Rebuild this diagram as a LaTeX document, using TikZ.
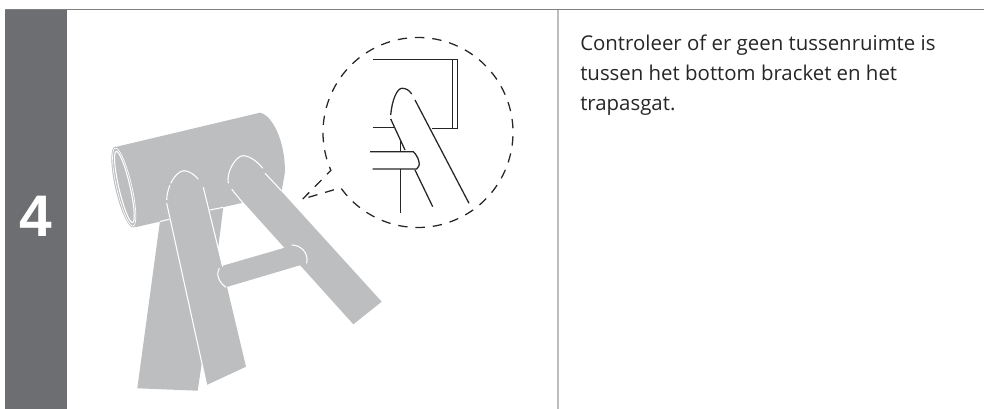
\documentclass[tikz,border=0pt]{standalone}
\usepackage{fontspec}
\setmainfont{Open Sans}
\newfontfamily\numfont{Liberation Sans}
\usepackage{tikz}
\usetikzlibrary{positioning}
\definecolor{bandgray}{RGB}{109,110,113}
\definecolor{rulegray}{RGB}{128,128,128}
\definecolor{sidegray}{RGB}{188,189,192}
\definecolor{tubegray}{RGB}{188,190,192}
\tikzset{tubefill/.style={fill=tubegray,draw=none},
  whiteline/.style={draw=white,line width=0.8pt},
  inkline/.style={draw=black!85,line width=0.95pt},
  lensdash/.style={draw=black!85,line width=0.95pt,dash pattern=on 7pt off 6pt}}
\begin{document}
\begin{tikzpicture}[x=0.75pt,y=-0.75pt]
\useasboundingbox (0,0) rectangle (984,409);
\fill[bandgray] (5,9) rectangle (67,409);
\draw[rulegray,line width=0.75pt] (5,9.5) -- (984,9.5);
\draw[sidegray,line width=1.2pt] (558,10) -- (558,409);
\node[text=white,font=\numfont\fontsize{44}{44}\selectfont\bfseries] (stepnum) at (36,216) {4};
\node[anchor=north west,align=left,inner sep=0pt,text=black!85,font=\fontsize{15.3}{22.5}\selectfont] (note) at (580,34.5)
  {Controleer of er geen tussenruimte is\\tussen het bottom bracket en het\\trapasgat.};
% frame
\fill[tubefill] (160,221) -- (137.3,388.3) -- (197.7,390.7) -- (203,355) -- (205,210) -- cycle;
\fill[tubefill] (205,209.8) -- (223.3,207.3) -- (218.3,247) -- (210,247) -- cycle;
\fill[tubefill] (116.7,146.7) -- (260,112.7) .. controls (272,115) and (285,140) .. (285,172) -- (281.7,191) -- (241.7,203) -- (135,227.3) -- cycle;
\fill[tubefill] (166,203) -- (170,183) .. controls (175,172) and (190,165) .. (203.3,187.3) -- (246,366.7) -- (206.7,385) -- cycle;
\fill[tubefill] (228,183) .. controls (232,155) and (250,150) .. (265,173.3) -- (381.7,301.7) -- (353.3,324.3) -- (231.7,189.3) -- cycle;
\fill[tubefill] (221.7,266) -- (288.3,246.7) .. controls (300,243) and (310,258) .. (306.7,263.3) -- (226.7,287) .. controls (218,285) and (212,270) .. (221.7,266) -- cycle;
% rim
\filldraw[tubefill,rotate around={13:(124.2,187)}] (124.2,187) ellipse (9 and 41.5);
\draw[whiteline,line width=0.5pt,rotate around={13:(124.2,187)}] (124.2,187) ellipse (7.6 and 40);
\draw[whiteline,rotate around={13:(124.2,187)}] (124.4,187) ellipse (5.6 and 36.5);
% joints
\draw[whiteline] (166.7,203.3) -- (206.7,385);
\draw[whiteline] (203.3,187.3) -- (222.7,266.7);
\draw[whiteline] (166.7,200) .. controls (166.7,195) and (168,190) .. (170,185);
\draw[whiteline] (170.7,183.3) .. controls (175,175) and (180,170.7) .. (184,170.7) .. controls (189,170.7) and (195,175) .. (198.3,179.3);
\draw[whiteline] (228.3,183.3) .. controls (226,172) and (236,155.5) .. (243.3,155.7) .. controls (250,156) and (258,162) .. (262.7,168.3);
\draw[whiteline] (265,173.3) -- (281.7,191);
\draw[whiteline] (231.7,189.3) -- (243,203);
\draw[whiteline] (160,221.5) -- (169.3,219.3);
\draw[whiteline] (210,210) -- (223.3,207.3);
\draw[whiteline] (291.7,245) .. controls (300,245) and (309,252) .. (306.7,263.3);
\draw[whiteline] (219.3,268.3) .. controls (216,273) and (218,282) .. (226,287.3);
% lens
\coordinate (lenscentre) at (418,132.5);
\coordinate (tailtip) at (302.7,199);
\draw[lensdash] (tailtip) -- ([shift={(156.5:95)}]lenscentre) arc (156.5:504.4:95) -- cycle;
\draw[inkline] (372.7,59.3) -- (457.3,59.3) -- (457.3,128.3) -- (431.7,128.3);
\draw[inkline] (452.3,59.3) -- (452.3,128.3);
\draw[inkline] (390.7,115) .. controls (392,100) and (397,88.3) .. (402,88.3) .. controls (406,88.3) and (409,90) .. (411.7,94);
\draw[inkline] (415,100) -- (469,203.3);
\draw[inkline] (390.7,119) -- (405,150);
\draw[inkline] (415,170) -- (432.7,206.7);
\draw[inkline] (370,151.7) -- (413.3,151.7) .. controls (418,156) and (422,166) .. (416.7,169) -- (372.7,169);
\draw[inkline] (372.7,127.3) -- (394,127.3);
\draw[inkline] (400.7,140.7) -- (400.7,151.7);
\draw[inkline] (400.7,169) -- (400.7,213.3);
\end{tikzpicture}
\end{document}
